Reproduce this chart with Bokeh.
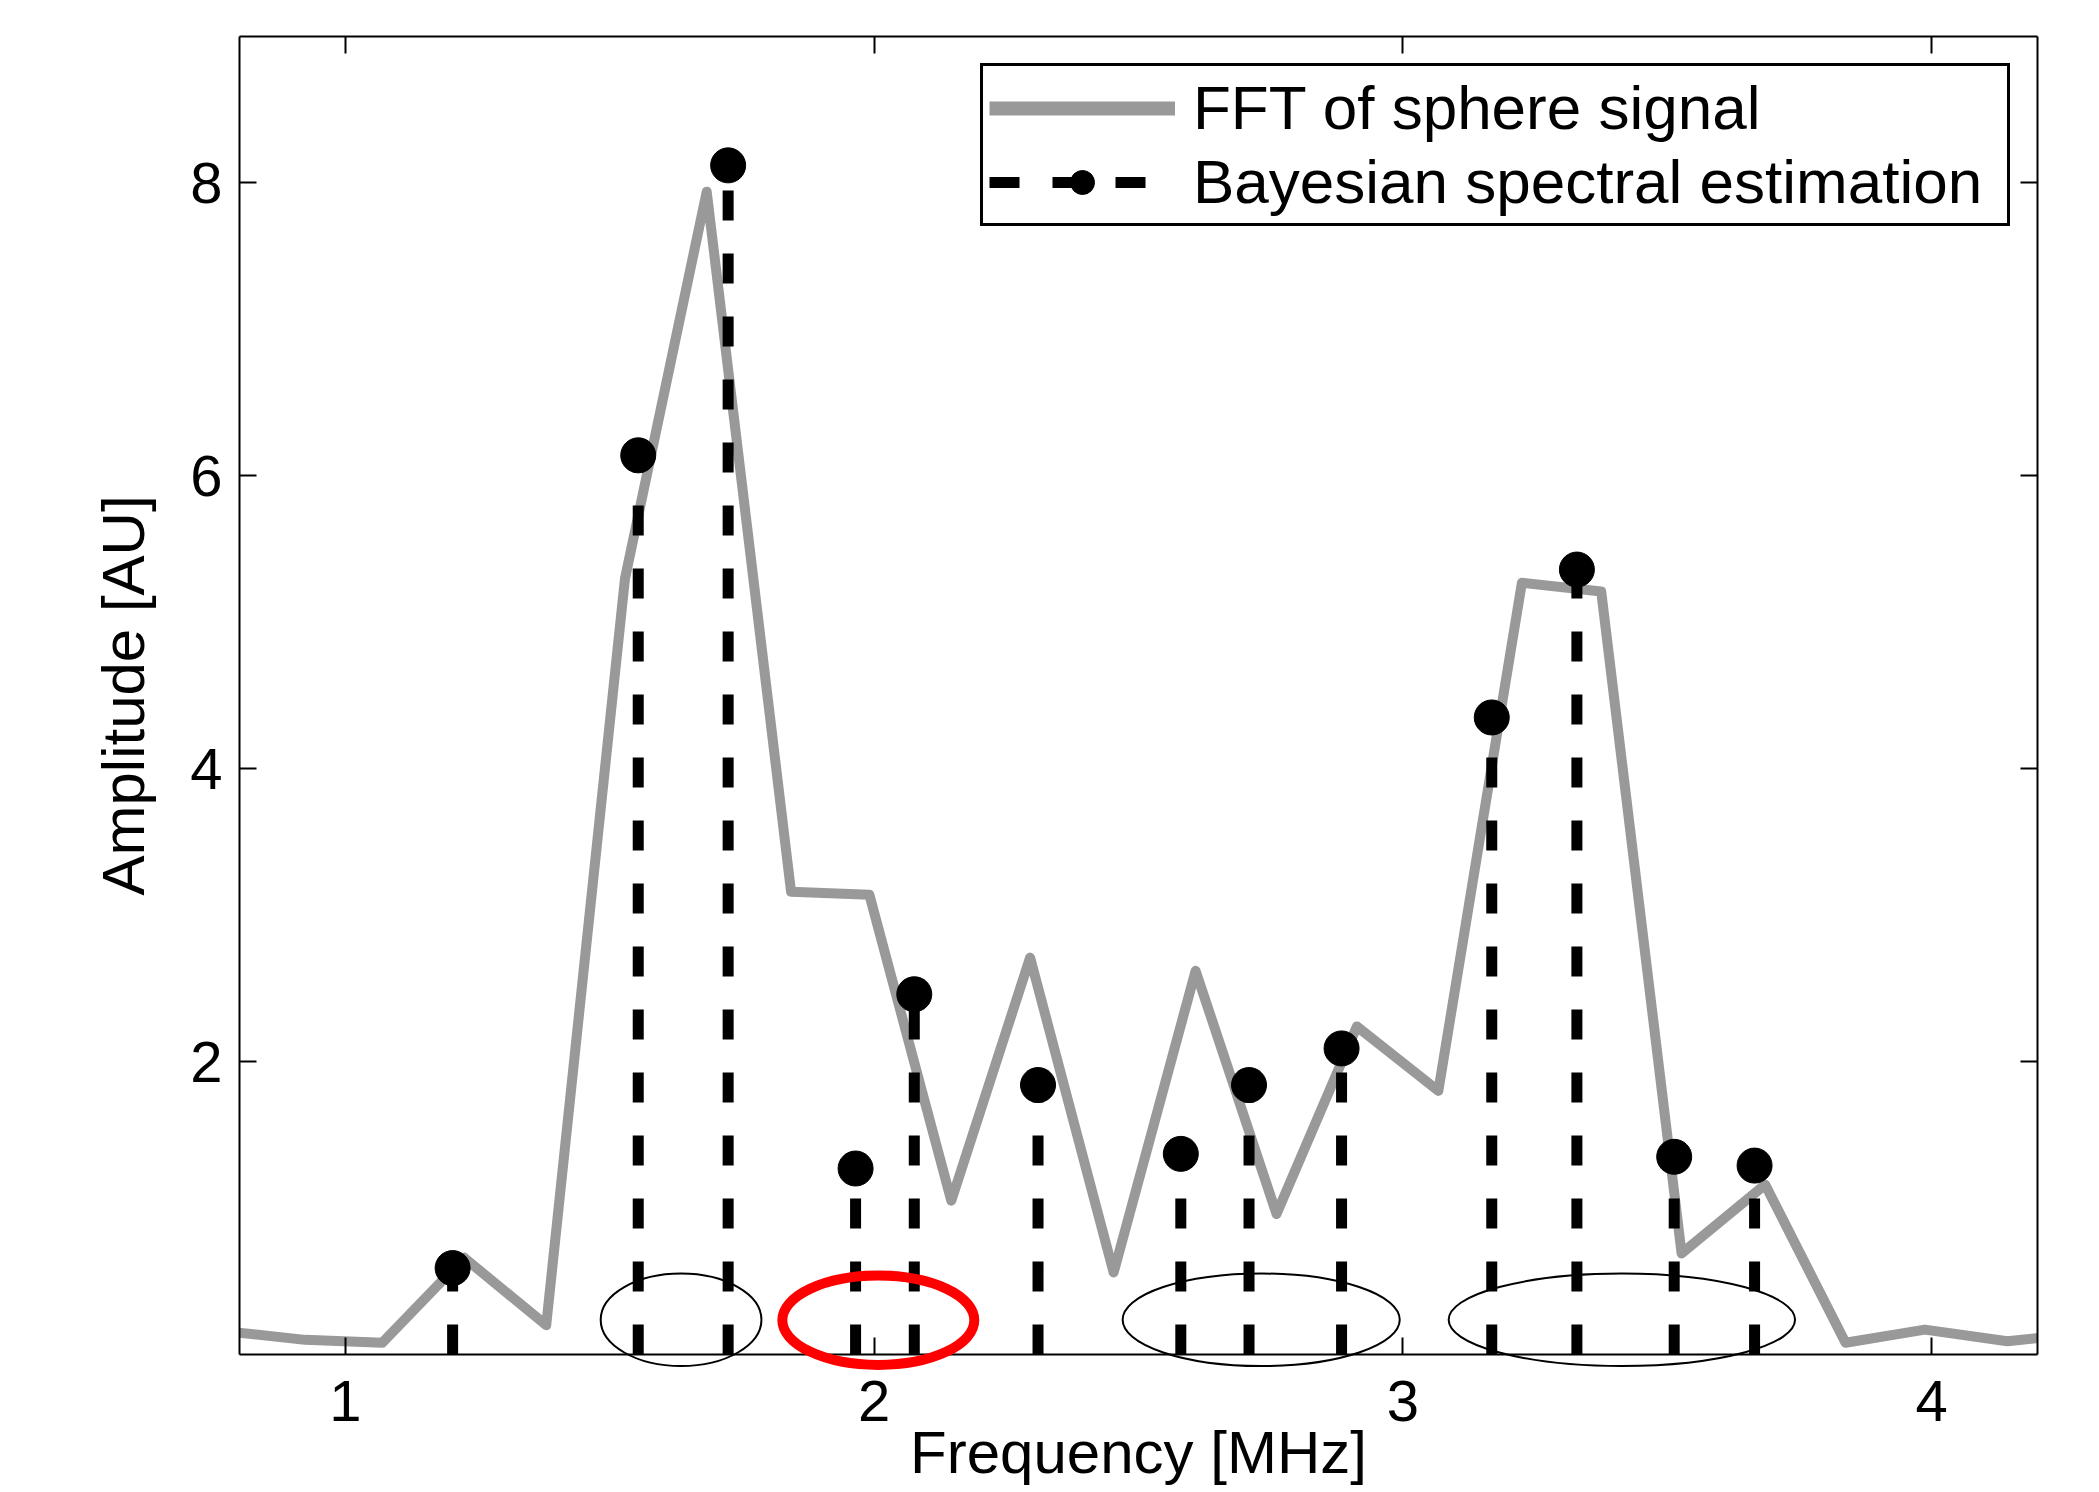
from bokeh.plotting import figure
from bokeh.models import (Range1d, LinearAxis, FixedTicker, Legend, LegendItem,
                          ColumnDataSource, CustomLabelingPolicy)
from bokeh.embed import file_html
from bokeh.resources import INLINE

# ---- data ----
fft_freq = [0.77, 0.924, 1.07, 1.225, 1.38, 1.529, 1.6835, 1.843, 1.991, 2.146, 2.295,
            2.453, 2.608, 2.761, 2.913, 3.067, 3.225, 3.375, 3.527, 3.685, 3.837, 3.987,
            4.143, 4.297]
fft_amp = [0.16, 0.10, 0.08, 0.66, 0.20, 5.30, 7.94, 3.16, 3.14, 1.05, 2.71,
           0.56, 2.62, 0.96, 2.24, 1.80, 5.27, 5.21, 0.69, 1.16, 0.08, 0.17,
           0.09, 0.15]

bse_freq = [1.203, 1.554, 1.724, 1.965, 2.076, 2.310, 2.580, 2.709, 2.884, 3.168, 3.329, 3.513, 3.665]
bse_amp = [0.59, 6.14, 8.12, 1.27, 2.46, 1.84, 1.37, 1.84, 2.09, 4.35, 5.36, 1.35, 1.29]

# annotation ellipses (data units)
group_x = [1.635, 2.732, 3.414]
group_y = [0.237, 0.237, 0.237]
group_w = [0.304, 0.524, 0.655]
group_h = [0.632, 0.632, 0.632]
miss_x = [2.008]
miss_y = [0.234]
miss_w = [0.363]
miss_h = [0.61]

x_ticks = [1, 2, 3, 4]
y_ticks = [2, 4, 6, 8]
x_label = "Frequency [MHz]"
y_label = "Amplitude [AU]"
legend_labels = ["FFT of sphere signal", "Bayesian spectral estimation"]

FONT = "Liberation Sans"

p = figure(frame_width=1798, frame_height=1318,
           x_range=Range1d(0.8, 4.2), y_range=Range1d(0, 9),
           output_backend="svg", toolbar_location=None,
           min_border_left=239, min_border_right=54, min_border_top=36, min_border_bottom=134,
           background_fill_color="white", border_fill_color="white",
           outline_line_color=None)
p.xgrid.visible = False
p.ygrid.visible = False

def style_axis(ax, ticks, show_labels):
    ax.ticker = FixedTicker(ticks=ticks)
    ax.axis_line_color = "black"
    ax.axis_line_width = 2
    ax.major_tick_line_color = "black"
    ax.major_tick_line_width = 2
    ax.major_tick_in = 17
    ax.major_tick_out = 0
    ax.minor_tick_line_color = None
    ax.major_label_text_font = FONT
    ax.major_label_text_color = "black"
    if show_labels:
        ax.major_label_text_font_size = "58px"
        ax.major_label_standoff = 17
    else:
        ax.major_label_text_font_size = "0px"
        ax.major_label_standoff = 0
        ax.major_label_policy = CustomLabelingPolicy(code="return []")

xb = p.xaxis[0]
yl = p.yaxis[0]
style_axis(xb, x_ticks, True)
style_axis(yl, y_ticks, True)
xb.major_label_standoff = 26
xb.axis_label = x_label
yl.axis_label = y_label
for ax in (xb, yl):
    ax.axis_label_text_font = FONT
    ax.axis_label_text_font_size = "60px"
    ax.axis_label_text_font_style = "normal"
    ax.axis_label_text_color = "black"
xb.axis_label_standoff = -5
yl.axis_label_standoff = 30

xt = LinearAxis()
style_axis(xt, x_ticks, False)
p.add_layout(xt, "above")
yr = LinearAxis()
style_axis(yr, y_ticks, False)
p.add_layout(yr, "right")

# FFT line
fft_src = ColumnDataSource(dict(f=fft_freq, a=fft_amp))
p.line("f", "a", source=fft_src, line_color="#999999", line_width=10, line_join="round")

# Bayesian stems
bse_src = ColumnDataSource(dict(f=bse_freq, a=bse_amp, base=[0] * len(bse_freq)))
stems = p.segment(x0="f", y0="base", x1="f", y1="a", source=bse_src,
                  line_color="black", line_width=11, line_dash="30 33")
dots = p.scatter("f", "a", source=bse_src, marker="circle", size=35,
                 fill_color="black", line_color="black")

# ellipses
grp_src = ColumnDataSource(dict(x=group_x, y=group_y, w=group_w, h=group_h))
e1 = p.ellipse(x="x", y="y", width="w", height="h", source=grp_src,
               fill_color=None, line_color="black", line_width=2)
miss_src = ColumnDataSource(dict(x=miss_x, y=miss_y, w=miss_w, h=miss_h))
e2 = p.ellipse(x="x", y="y", width="w", height="h", source=miss_src,
               fill_color=None, line_color="#ff0000", line_width=10)
e1.level = "overlay"
e2.level = "overlay"

# legend sample for the FFT line: a single-point line (draws nothing in the plot)
leg_src = ColumnDataSource(dict(f=fft_freq[:1], a=fft_amp[:1]))
leg_line = p.line("f", "a", source=leg_src, line_color="#999999", line_width=14)
legend = Legend(items=[LegendItem(label=legend_labels[0], renderers=[leg_line]),
                       LegendItem(label=legend_labels[1], renderers=[stems, dots])],
                location="top_right", margin=27, padding=6, spacing=3,
                glyph_width=186, glyph_height=60, label_height=60, label_standoff=18,
                label_width=808,
                label_text_font=FONT, label_text_font_size="62px", label_text_color="black",
                border_line_color="black", border_line_width=3, border_line_alpha=1.0,
                background_fill_color="white", background_fill_alpha=1.0)
p.add_layout(legend)

open("out.html", "w").write(file_html(p, INLINE))
